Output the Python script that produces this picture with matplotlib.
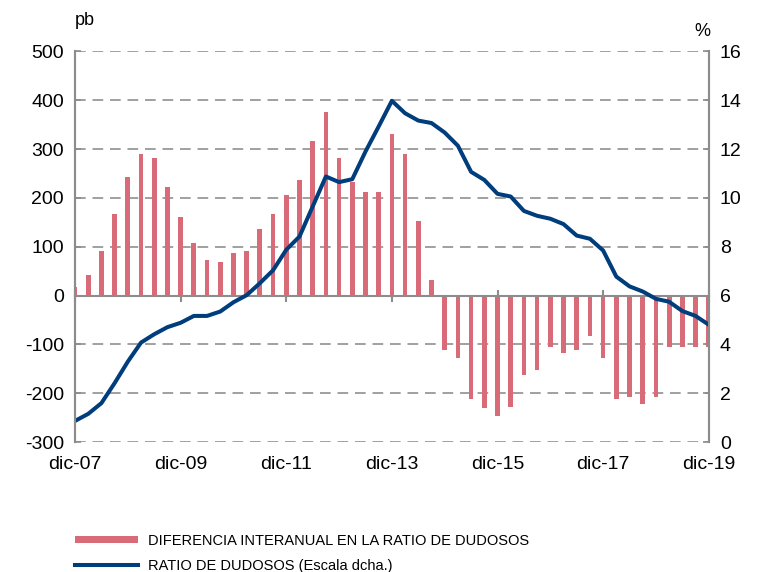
import matplotlib
matplotlib.use("Agg")
import matplotlib.pyplot as plt
import numpy as np

# trimestral, dic-07 ... dic-19
diferencia = [17, 42, 92, 167, 243, 291, 282, 222,
              162, 108, 72, 68, 88, 92, 137, 167,
              207, 237, 317, 377, 282, 232, 212, 212,
              331, 291, 152, 32, -112, -127, -212, -231,
              -246, -227, -162, -152, -106, -117, -112, -82,
              -127, -212, -207, -222, -207, -106, -106, -106,
              -106]
ratio = [0.87, 1.16, 1.60, 2.42, 3.30, 4.08, 4.42, 4.71,
         4.89, 5.17, 5.17, 5.35, 5.73, 6.02, 6.51, 7.04,
         7.88, 8.42, 9.65, 10.88, 10.65, 10.77, 11.90, 12.93,
         13.98, 13.47, 13.17, 13.07, 12.68, 12.14, 11.07, 10.74,
         10.17, 10.06, 9.47, 9.27, 9.15, 8.93, 8.46, 8.33,
         7.85, 6.78, 6.38, 6.17, 5.87, 5.75, 5.37, 5.17,
         4.81]
etiquetas = ["dic-07", "dic-09", "dic-11", "dic-13", "dic-15", "dic-17", "dic-19"]

plt.rcParams['font.family'] = ['Liberation Sans', 'DejaVu Sans']
plt.rcParams['axes.unicode_minus'] = False
gris = "#8c8c8c"
rosa = "#d96b78"
azul = "#003d7c"

x = np.arange(len(diferencia))

fig = plt.figure(figsize=(7.58, 5.72), dpi=100)
ax = fig.add_axes([0.099, 0.227, 0.836, 0.683])
ax2 = ax.twinx()

ax.set_ylim(-300, 500)
ax.set_xlim(0, len(diferencia) - 1)
ax2.set_ylim(0, 16)

for v in range(-300, 501, 100):
    if v != 0:
        ax.axhline(v, color="#a0a0a0", lw=1.4, ls=(0, (5.5, 3.5)), zorder=0)

bars = ax.bar(x, diferencia, width=0.36, color=rosa, zorder=2)
line, = ax2.plot(x, ratio, color=azul, lw=2.9, solid_joinstyle='round')

ax.set_yticks(range(-300, 501, 100))
ax2.set_yticks(range(0, 17, 2))
ax.tick_params(axis='y', direction='in', length=4, width=1.2, color=gris,
               labelsize=14, pad=8)
ax2.tick_params(axis='y', direction='in', length=4, width=1.2, color=gris,
                labelsize=14, pad=8)

for a in (ax, ax2):
    a.spines['top'].set_visible(False)
    a.spines['bottom'].set_visible(False)
    for s in ('left', 'right'):
        a.spines[s].set_color(gris)
        a.spines[s].set_linewidth(1.5)

# eje horizontal en cero con marcas
ax.spines['bottom'].set_visible(True)
ax.spines['bottom'].set_position(('data', 0))
ax.spines['bottom'].set_color(gris)
ax.spines['bottom'].set_linewidth(1.5)
ax.set_xticks(x[::8])
ax.tick_params(axis='x', direction='inout', length=9, width=1.5, color=gris,
               labelbottom=False)

sec = ax.secondary_xaxis('bottom')
sec.set_xticks(x[::8])
sec.set_xticklabels(etiquetas)
sec.tick_params(length=0, labelsize=14, pad=10)
sec.spines['bottom'].set_visible(False)

ax.set_zorder(ax2.get_zorder() - 1)
ax2.patch.set_visible(False)

fig.text(0.099, 0.965, "pb", fontsize=13, ha='left', va='center')
fig.text(0.927, 0.945, "%", fontsize=13, ha='center', va='center')

fig.legend([bars, line],
           ["DIFERENCIA INTERANUAL EN LA RATIO DE DUDOSOS",
            "RATIO DE DUDOSOS (Escala dcha.)"],
           loc='upper left', bbox_to_anchor=(0.099, 0.067), frameon=False,
           borderpad=0, borderaxespad=0, handlelength=4.3, handleheight=0.45,
           handletextpad=0.7, labelspacing=0.75,
           prop={'family': ['Liberation Sans Narrow', 'Liberation Sans', 'DejaVu Sans'], 'size': 10.5})

fig.savefig("out.png", dpi=100)
